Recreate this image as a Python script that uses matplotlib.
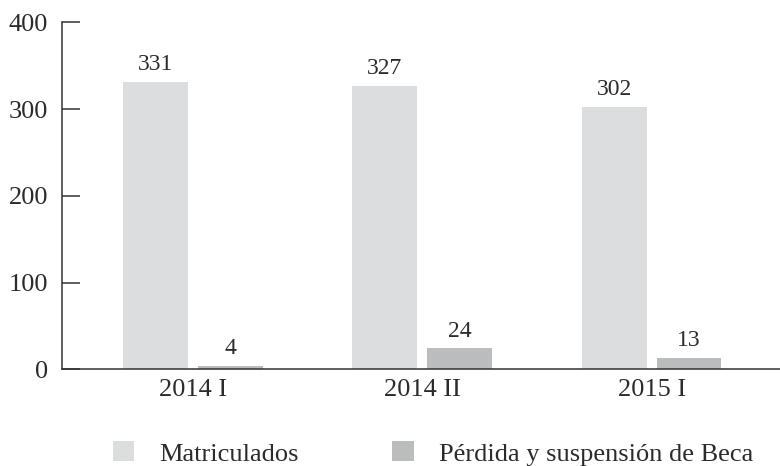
import numpy as np
import matplotlib
matplotlib.use('Agg')
import matplotlib.pyplot as plt
from matplotlib.patches import Patch

# Data
periods = ['2014 I', '2014 II', '2015 I']
matriculados = [331, 327, 302]
perdida_beca = [4, 24, 13]
series_names = ['Matriculados', 'Pérdida y suspensión de Beca']
y_ticks = [0, 100, 200, 300, 400]

plt.rcParams['font.family'] = ['Liberation Serif', 'DejaVu Serif']
text_color = '#2b2b2b'
color_mat = '#dcdddf'
color_per = '#bbbcbe'

fig = plt.figure(figsize=(7.8, 4.66), dpi=100)
ax = fig.add_axes([0.0795, 0.2075, 0.9205, 0.7445])

x = np.arange(len(periods))
width = 0.283
offset = 0.0215 + width / 2

bars1 = ax.bar(x - offset, matriculados, width, color=color_mat)
bars2 = ax.bar(x + offset, perdida_beca, width, color=color_per)

# Value labels above bars
for bars, vals in [(bars1, matriculados), (bars2, perdida_beca)]:
    for b, v in zip(bars, vals):
        ax.annotate(str(v), (b.get_x() + b.get_width() / 2, v),
                    xytext=(0, 5), textcoords='offset points',
                    ha='center', va='bottom', fontsize=17, color=text_color)

ax.set_ylim(0, 400)
ax.set_xlim(-0.571, 2.56)
ax.set_yticks(y_ticks)
ax.set_xticks(x)
ax.set_xticklabels(periods)

for side in ['top', 'right']:
    ax.spines[side].set_visible(False)
for side in ['left', 'bottom']:
    ax.spines[side].set_color('#333333')
    ax.spines[side].set_linewidth(1.1)

ax.tick_params(axis='y', direction='in', length=13, width=1.1,
               color='#333333', pad=10, labelsize=19, labelcolor=text_color)
ax.tick_params(axis='x', length=0, pad=7, labelsize=19,
               labelcolor=text_color)

handles = [Patch(facecolor=color_mat, edgecolor='none'),
           Patch(facecolor=color_per, edgecolor='none')]
fig.legend(handles, series_names, loc='center', ncol=2,
           bbox_to_anchor=(0.555, 0.027), frameon=False, fontsize=19,
           handlelength=0.8, handleheight=0.8, handletextpad=0.95,
           columnspacing=3.56, labelcolor=text_color, borderpad=0)

fig.savefig('out.png', dpi=100)
